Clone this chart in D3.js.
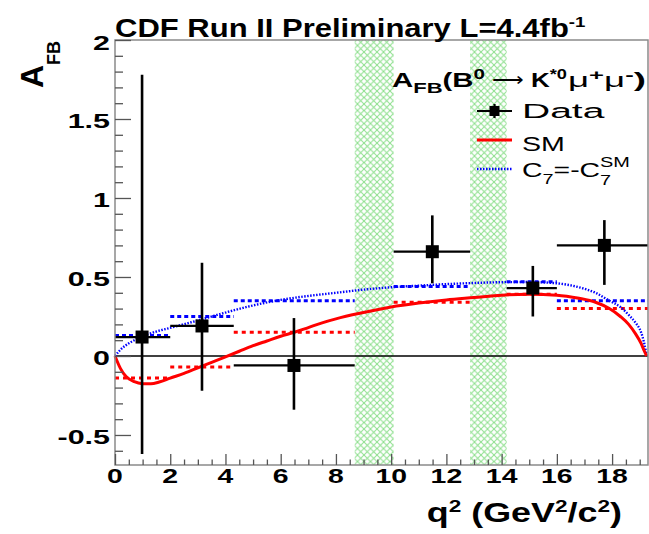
<!DOCTYPE html>
<html>
<head>
<meta charset="utf-8">
<script src="https://cdn.jsdelivr.net/npm/d3@7"></script>
<style>
  html, body { margin: 0; padding: 0; background: #fff; }
  svg { display: block; }
  text { font-family: "Liberation Sans", Arial, Helvetica, sans-serif; }
</style>
</head>
<body>
<svg id="chart" width="649" height="534"></svg>
<script>
// ---- data ----
// q^2 bins (GeV^2/c^2) of the measurement
const binLo = [0, 2, 4.3, 10.09, 14.18, 16];
const binHi = [2, 4.3, 8.68, 12.86, 16, 19.3];
// measured A_FB per bin
const dataX = [0.98, 3.15, 6.48, 11.49, 15.13, 17.72];
const dataY = [0.12, 0.19, -0.06, 0.66, 0.43, 0.70];
const dataErrHi = [1.78, 0.59, 0.24, 0.89, 0.57, 0.86];
const dataErrLo = [-0.62, -0.22, -0.34, 0.46, 0.25, 0.45];
// bin-averaged predictions
const smBinned = [-0.14, -0.07, 0.15, 0.34, 0.39, 0.30];
const c7Binned = [0.13, 0.25, 0.35, 0.44, 0.47, 0.35];
// vetoed charmonium regions
const vetoLo = [8.68, 12.86];
const vetoHi = [10.09, 14.18];
// SM prediction curve
const smQ2 = [0, 0.2, 0.4, 0.7, 1.0, 1.3, 1.6, 2.0, 2.5, 3.0, 3.5, 4.0, 4.5, 5.0, 5.5, 6.0, 6.5, 7.0, 7.5, 8.0, 9.0, 10.0, 11.0, 12.0, 13.0, 14.0, 15.0, 16.0, 16.8, 17.4, 17.9, 18.3, 18.6, 18.85, 19.05, 19.17, 19.25];
const smAfb = [0, -0.08, -0.13, -0.163, -0.175, -0.176, -0.165, -0.14, -0.11, -0.075, -0.04, -0.005, 0.03, 0.065, 0.095, 0.125, 0.15, 0.18, 0.21, 0.235, 0.275, 0.31, 0.335, 0.355, 0.37, 0.385, 0.39, 0.385, 0.365, 0.34, 0.30, 0.25, 0.20, 0.14, 0.08, 0.03, 0];
// flipped-sign C7 prediction curve
const c7Q2 = [0, 0.2, 0.5, 0.7, 1.0, 1.5, 2.0, 3.0, 4.0, 5.0, 6.0, 7.0, 8.0, 9.0, 10.0, 11.0, 12.0, 13.0, 14.0, 15.0, 16.0, 16.8, 17.4, 17.9, 18.3, 18.6, 18.85, 19.05, 19.15, 19.22, 19.25];
const c7Afb = [0, 0.04, 0.08, 0.10, 0.125, 0.155, 0.178, 0.225, 0.275, 0.32, 0.355, 0.38, 0.40, 0.42, 0.435, 0.445, 0.455, 0.462, 0.467, 0.468, 0.46, 0.435, 0.40, 0.35, 0.31, 0.26, 0.21, 0.15, 0.09, 0.03, 0];
// axis ticks
const xTickLabels = [0, 2, 4, 6, 8, 10, 12, 14, 16, 18];
const yTickLabels = [-0.5, 0, 0.5, 1, 1.5, 2];

// ---- layout ----
const svg = d3.select("#chart");
const L = 115, R = 648, T = 40, B = 465;
const x = d3.scaleLinear().domain([0, 19.3]).range([L, R]);
const y = d3.scaleLinear().domain([-0.69, 2.0]).range([B, T]);
const RED = "#ff0000", BLUE = "#0000ff", GREEN = "#8cdf8c";

// text placed at (px, py), widened horizontally by factor sx
function wideText(px, py, sx, anchor, size, weight) {
  return svg.append("text")
    .attr("transform", `translate(${px},${py}) scale(${sx},1)`)
    .attr("text-anchor", anchor || "start")
    .attr("font-size", size)
    .attr("font-weight", weight || "normal");
}
// widen a filled, start-anchored text so that its advance spans the given width
function fitWidth(sel, px, py, width) {
  const w = sel.node().getComputedTextLength();
  sel.attr("transform", `translate(${px},${py}) scale(${width / w},1)`);
}

// cross-hatch pattern for vetoed regions
const defs = svg.append("defs");
const pat = defs.append("pattern").attr("id", "hatch")
  .attr("patternUnits", "userSpaceOnUse").attr("width", 6.5).attr("height", 6.5);
pat.append("path").attr("d", "M-1,-1 L7.5,7.5 M-1,7.5 L7.5,-1")
  .attr("stroke", GREEN).attr("stroke-width", 1).attr("fill", "none");

svg.append("g").selectAll("rect").data(vetoLo).join("rect")
  .attr("x", (d) => x(d)).attr("y", T)
  .attr("width", (d, i) => x(vetoHi[i]) - x(d)).attr("height", B - T)
  .attr("fill", "url(#hatch)");

// zero line
svg.append("line").attr("x1", L).attr("x2", R).attr("y1", y(0)).attr("y2", y(0))
  .attr("stroke", "#000").attr("stroke-width", 1.5);

// binned predictions
const bins = d3.range(binLo.length);
svg.append("g").selectAll("line").data(bins).join("line")
  .attr("x1", (i) => x(binLo[i])).attr("x2", (i) => x(binHi[i]))
  .attr("y1", (i) => y(c7Binned[i])).attr("y2", (i) => y(c7Binned[i]))
  .attr("stroke", BLUE).attr("stroke-width", 3).attr("stroke-dasharray", "4,3");
svg.append("g").selectAll("line").data(bins).join("line")
  .attr("x1", (i) => x(binLo[i])).attr("x2", (i) => x(binHi[i]))
  .attr("y1", (i) => y(smBinned[i])).attr("y2", (i) => y(smBinned[i]))
  .attr("stroke", RED).attr("stroke-width", 3).attr("stroke-dasharray", "4,4");

// theory curves
const line = d3.line().curve(d3.curveMonotoneX);
svg.append("path")
  .attr("d", line(c7Q2.map((q, i) => [x(q), y(c7Afb[i])])))
  .attr("fill", "none").attr("stroke", BLUE).attr("stroke-width", 2.4)
  .attr("stroke-dasharray", "1.5,1.5");
svg.append("path")
  .attr("d", line(smQ2.map((q, i) => [x(q), y(smAfb[i])])))
  .attr("fill", "none").attr("stroke", RED).attr("stroke-width", 3);

// data with errors
const gd = svg.append("g");
gd.selectAll("line.h").data(bins).join("line").attr("class", "h")
  .attr("x1", (i) => x(binLo[i])).attr("x2", (i) => x(binHi[i]))
  .attr("y1", (i) => y(dataY[i])).attr("y2", (i) => y(dataY[i]))
  .attr("stroke", "#000").attr("stroke-width", 2.2);
gd.selectAll("line.v").data(bins).join("line").attr("class", "v")
  .attr("x1", (i) => x(dataX[i])).attr("x2", (i) => x(dataX[i]))
  .attr("y1", (i) => y(dataErrLo[i])).attr("y2", (i) => y(dataErrHi[i]))
  .attr("stroke", "#000").attr("stroke-width", 2.6);
const ms = 13;
gd.selectAll("rect").data(bins).join("rect")
  .attr("x", (i) => x(dataX[i]) - ms / 2).attr("y", (i) => y(dataY[i]) - ms / 2)
  .attr("width", ms).attr("height", ms).attr("fill", "#000");

// frame
svg.append("rect").attr("x", L).attr("y", T).attr("width", R - L).attr("height", B - T)
  .attr("fill", "none").attr("stroke", "#8a8a8a").attr("stroke-width", 1.5);

// axes (ticks pointing into the frame)
const xAxis = d3.axisTop(x).tickValues(d3.range(0, 19.3, 0.5))
  .tickSize(0).tickFormat("");
const gx = svg.append("g").attr("transform", `translate(0,${B})`).call(xAxis);
gx.select(".domain").remove();
gx.selectAll(".tick line").attr("y2", (d) => (Math.abs(d % 2) < 1e-6 ? -11 : -5.5))
  .attr("stroke", "#555").attr("stroke-width", 1.3);
xTickLabels.forEach((d) => {
  wideText(x(d), 483, 1.42, "middle", 20, "bold").text(d);
});

const yAxis = d3.axisRight(y).tickValues(d3.range(-0.6, 2.001, 0.1)).tickSize(0).tickFormat("");
const gy = svg.append("g").attr("transform", `translate(${L},0)`).call(yAxis);
gy.select(".domain").remove();
gy.selectAll(".tick line").attr("x2", (d) => (Math.abs(Math.round(d * 10) % 5) === 0 ? 16 : 8))
  .attr("stroke", "#555").attr("stroke-width", 1.3);
yTickLabels.forEach((d) => {
  wideText(110, y(d) + 9.5, 1.45, "end", 21, "bold").text(d);
});

// axis titles
const xt = wideText(622, 522, 1.33, "end", 27, "bold");
xt.append("tspan").text("q");
xt.append("tspan").attr("dy", -10).attr("font-size", 17).text("2");
xt.append("tspan").attr("dy", 10).text(" (GeV");
xt.append("tspan").attr("dy", -10).attr("font-size", 17).text("2");
xt.append("tspan").attr("dy", 10).text("/c");
xt.append("tspan").attr("dy", -10).attr("font-size", 17).text("2");
xt.append("tspan").attr("dy", 10).text(")");

const yt = svg.append("text").attr("transform", "translate(43,88) rotate(-90)")
  .attr("font-weight", "bold").attr("font-size", 32);
yt.append("tspan").text("A");
yt.append("tspan").attr("dy", 17).attr("font-size", 18).text("FB");

// title
const tt = wideText(115, 37, 1.24, "start", 25, "bold");
tt.append("tspan").text("CDF Run II Preliminary L=4.4fb");
tt.append("tspan").attr("dy", -10).attr("font-size", 15).text("-1");

// legend header, set in four pieces
const hy = 87;
const h1 = wideText(392, hy, 1, "start", 20, "bold");
h1.append("tspan").text("A");
h1.append("tspan").attr("dy", 6).attr("font-size", 15).text("FB");
h1.append("tspan").attr("dy", -6).text("(B");
h1.append("tspan").attr("dy", -8).attr("font-size", 14).text("0");
fitWidth(h1, 392, hy, 93);
const h2 = wideText(492, hy - 1, 1, "start", 20).attr("font-family", "DejaVu Sans").text("\u27F6");
fitWidth(h2, 492, hy - 1, 32);
const h3 = wideText(531, hy, 1, "start", 20, "bold");
h3.append("tspan").text("K");
h3.append("tspan").attr("dy", -8).attr("font-size", 14).text("*0");
fitWidth(h3, 531, hy, 36);
const h4 = wideText(568, hy, 1, "start", 20, "bold");
h4.append("tspan").attr("font-weight", "normal").text("\u03BC");
h4.append("tspan").attr("dy", -7).attr("font-size", 14).text("+");
h4.append("tspan").attr("dy", 7).attr("font-weight", "normal").text("\u03BC");
h4.append("tspan").attr("dy", -7).attr("font-size", 14).text("-");
h4.append("tspan").attr("dy", 7).text(")");
fitWidth(h4, 568, hy, 78);

const lx1 = 477, lx2 = 512, ltx = 522;
// Data entry
svg.append("line").attr("x1", lx1).attr("x2", lx2).attr("y1", 111).attr("y2", 111)
  .attr("stroke", "#000").attr("stroke-width", 2.2);
svg.append("line").attr("x1", (lx1 + lx2) / 2).attr("x2", (lx1 + lx2) / 2).attr("y1", 104).attr("y2", 118)
  .attr("stroke", "#000").attr("stroke-width", 2.2);
svg.append("rect").attr("x", (lx1 + lx2) / 2 - 5).attr("y", 106).attr("width", 10).attr("height", 10)
  .attr("fill", "#000");
wideText(ltx, 118, 1.95, "start", 20).text("Data");
// SM entry
svg.append("line").attr("x1", lx1).attr("x2", lx2).attr("y1", 140).attr("y2", 140)
  .attr("stroke", RED).attr("stroke-width", 3);
wideText(ltx, 151, 1.43, "start", 20).text("SM");
// C7 entry
svg.append("line").attr("x1", lx1).attr("x2", lx2).attr("y1", 169).attr("y2", 169)
  .attr("stroke", BLUE).attr("stroke-width", 2.4).attr("stroke-dasharray", "1.5,1.5");
const lc = wideText(ltx, 177, 1.42, "start", 20);
lc.append("tspan").text("C");
lc.append("tspan").attr("dy", 7).attr("font-size", 14).text("7");
lc.append("tspan").attr("dy", -7).text("=-C");
lc.append("tspan").attr("dy", -10).attr("font-size", 14).text("SM");
lc.append("tspan").attr("dx", -21).attr("dy", 18).attr("font-size", 14).text("7");
</script>
</body>
</html>
